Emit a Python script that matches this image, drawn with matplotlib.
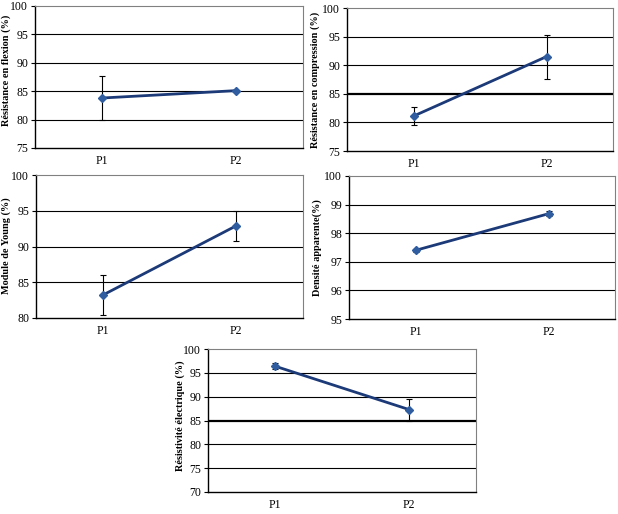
import matplotlib
matplotlib.use("Agg")
import matplotlib.pyplot as plt

categories = ["P1", "P2"]

flexion = [83.8, 85.1]
flexion_err = [3.95, 0.15]
compression = [81.1, 91.5]
compression_err = [1.55, 3.85]
young = [83.2, 92.9]
young_err = [2.85, 2.1]
densite = [97.4, 98.68]
densite_err = [0.04, 0.09]
resistivite = [96.4, 87.3]
resistivite_err = [0.6, 2.3]

ylabels = ["Résistance en flexion (%)", "Résistance en compression (%)",
           "Module de Young (%)", "Densité apparente(%)",
           "Résistivité électrique (%)"]
ylims = [(75, 100, 5), (75, 100, 5), (80, 100, 5), (95, 100, 1), (70, 100, 5)]
thick = [None, 85, None, None, 85]

plt.rcParams['font.family'] = ['Liberation Serif', 'DejaVu Serif']

W, H = 618, 514
fig = plt.figure(figsize=(W / 100, H / 100), dpi=100)

# pixel boxes (left, top, right, bottom)
boxes = [(35, 6, 303, 148), (347, 8, 613, 151), (36, 175, 303, 318),
         (349, 176, 615, 319), (208, 349, 476, 492)]
# y-label centre positions in pixels
label_pos = [(6, 70), (315, 80), (6, 246), (317, 248), (180, 416)]
series = [(flexion, flexion_err), (compression, compression_err),
          (young, young_err), (densite, densite_err),
          (resistivite, resistivite_err)]

x = list(range(len(categories)))
for i, (b, (vals, errs)) in enumerate(zip(boxes, series)):
    l, t, r, bt = b
    ax = fig.add_axes([l / W, 1 - bt / H, (r - l) / W, (bt - t) / H])
    lo, hi, step = ylims[i]
    ax.set_ylim(lo, hi)
    ax.set_xlim(-0.5, 1.5)
    ticks = list(range(lo, hi + 1, step))
    ax.set_yticks(ticks)
    for tk in ticks[1:-1]:
        lw = 1.6 if thick[i] == tk else 0.8
        ax.axhline(tk, color='black', lw=lw, zorder=1)
    ax.errorbar(x, vals, yerr=errs, fmt='none', ecolor='black', elinewidth=0.8,
                capsize=2.5, capthick=0.8, zorder=2)
    ax.plot(x, vals, color='#1c3a78', lw=2.0, zorder=3)
    ax.plot(x, vals, linestyle='none', marker='D', ms=4.2, color='#2f5da0',
            markeredgecolor='#2f5da0', zorder=4)
    ax.set_xticks(x)
    ax.set_xticklabels(categories, fontsize=8.5)
    ax.tick_params(axis='x', length=0, pad=5)
    ax.tick_params(axis='y', length=3, width=0.8, labelsize=8.5, pad=2)
    lx, ly = label_pos[i]
    fig.text(lx / W, 1 - ly / H, ylabels[i], rotation=90, ha='center',
             va='center', fontsize=7.4, fontweight='bold')
    for s in ['top', 'right']:
        ax.spines[s].set_color('#808080')
        ax.spines[s].set_linewidth(0.8)
    for s in ['left', 'bottom']:
        ax.spines[s].set_color('black')
        ax.spines[s].set_linewidth(1.0)

fig.savefig("out.png", dpi=100)
